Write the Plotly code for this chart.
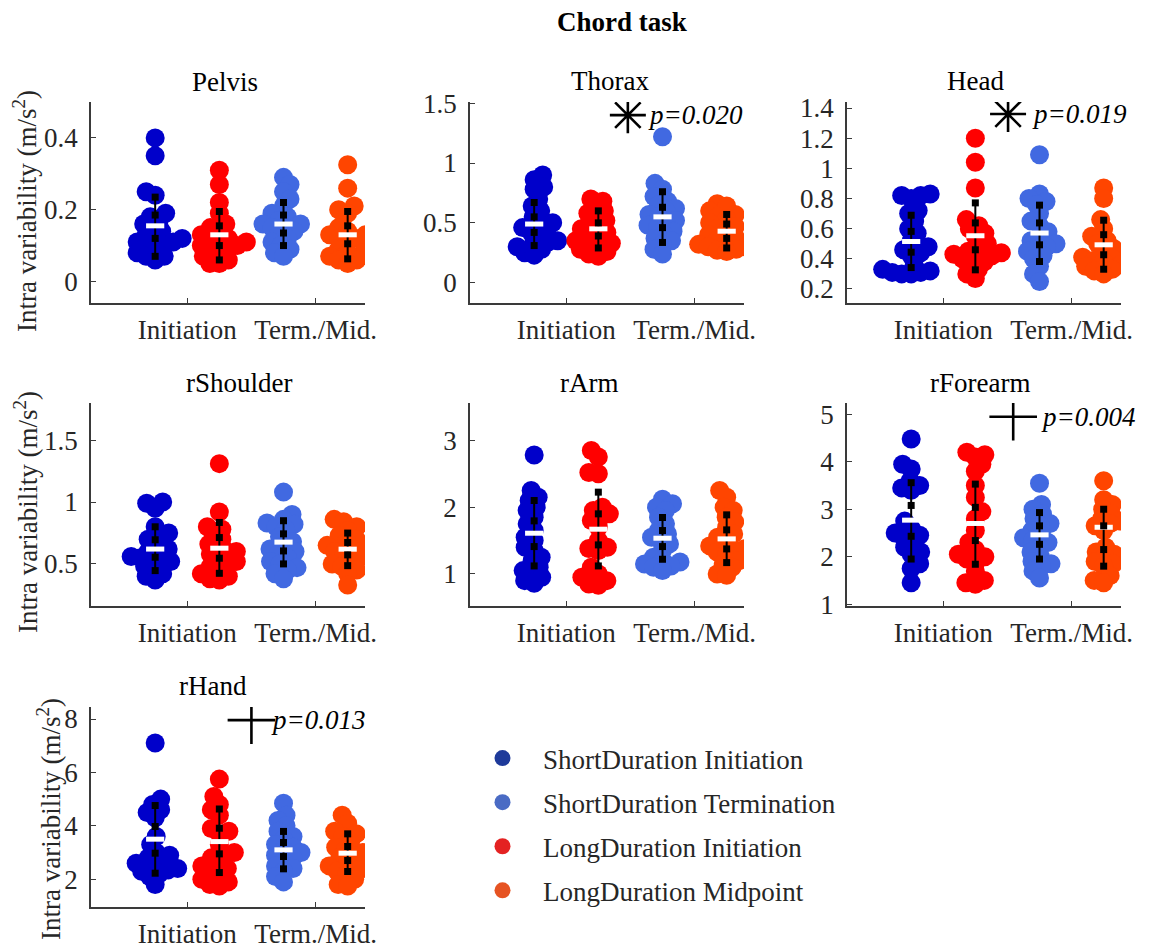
import numpy as np
import plotly.graph_objects as go

W, H = 1158, 948
FONT = "'Liberation Serif', 'Times New Roman', Times, serif"

# ---------------- data ----------------
panel_names = ["Pelvis", "Thorax", "Head", "rShoulder", "rArm", "rForearm", "rHand"]
group_names = ["ShortDuration Initiation", "LongDuration Initiation",
               "ShortDuration Termination", "LongDuration Midpoint"]
tick_labels = ["Initiation", "Term./Mid."]

# values per group: [ShortInit, LongInit, ShortTerm, LongMid]
pelvis = [
    [0.40, 0.35, 0.25, 0.24, 0.19, 0.18, 0.17, 0.16, 0.15, 0.14, 0.13, 0.12, 0.12, 0.11, 0.11, 0.10, 0.10, 0.09, 0.08, 0.07, 0.07, 0.06],
    [0.31, 0.27, 0.22, 0.19, 0.16, 0.15, 0.14, 0.13, 0.12, 0.12, 0.11, 0.11, 0.10, 0.10, 0.09, 0.09, 0.08, 0.07, 0.06, 0.05, 0.05],
    [0.29, 0.27, 0.25, 0.23, 0.21, 0.19, 0.18, 0.17, 0.16, 0.16, 0.15, 0.15, 0.14, 0.13, 0.12, 0.11, 0.10, 0.09, 0.08, 0.07],
    [0.325, 0.26, 0.21, 0.20, 0.19, 0.15, 0.14, 0.13, 0.13, 0.12, 0.12, 0.11, 0.09, 0.08, 0.08, 0.07, 0.06, 0.06, 0.05],
]
thorax = [
    [0.90, 0.86, 0.80, 0.78, 0.70, 0.64, 0.60, 0.55, 0.50, 0.48, 0.46, 0.44, 0.42, 0.38, 0.35, 0.34, 0.32, 0.30, 0.28, 0.25, 0.23],
    [0.70, 0.68, 0.63, 0.60, 0.58, 0.55, 0.52, 0.50, 0.47, 0.45, 0.42, 0.40, 0.38, 0.35, 0.33, 0.32, 0.30, 0.28, 0.26, 0.24, 0.22],
    [1.22, 0.83, 0.78, 0.72, 0.68, 0.65, 0.62, 0.60, 0.57, 0.55, 0.52, 0.50, 0.48, 0.46, 0.43, 0.40, 0.37, 0.35, 0.32, 0.28, 0.24],
    [0.66, 0.64, 0.60, 0.57, 0.55, 0.53, 0.50, 0.47, 0.45, 0.43, 0.40, 0.38, 0.36, 0.34, 0.32, 0.30, 0.30, 0.28, 0.27, 0.26],
]
head = [
    [0.83, 0.82, 0.82, 0.80, 0.72, 0.70, 0.65, 0.60, 0.57, 0.52, 0.48, 0.46, 0.44, 0.42, 0.36, 0.33, 0.32, 0.31, 0.31, 0.30, 0.30],
    [1.20, 1.04, 0.87, 0.66, 0.62, 0.60, 0.57, 0.55, 0.50, 0.47, 0.45, 0.44, 0.43, 0.42, 0.41, 0.40, 0.38, 0.36, 0.33, 0.30, 0.27],
    [1.09, 0.83, 0.80, 0.78, 0.76, 0.70, 0.65, 0.62, 0.58, 0.55, 0.52, 0.50, 0.48, 0.47, 0.45, 0.42, 0.40, 0.35, 0.30, 0.25],
    [0.87, 0.80, 0.66, 0.60, 0.55, 0.52, 0.50, 0.47, 0.45, 0.43, 0.42, 0.41, 0.40, 0.39, 0.38, 0.36, 0.35, 0.33, 0.32, 0.30],
]
rshoulder = [
    [1.00, 0.99, 0.95, 0.80, 0.75, 0.72, 0.70, 0.65, 0.62, 0.60, 0.58, 0.56, 0.55, 0.53, 0.52, 0.50, 0.48, 0.45, 0.42, 0.40, 0.37],
    [1.31, 0.92, 0.80, 0.78, 0.74, 0.70, 0.66, 0.63, 0.60, 0.60, 0.58, 0.55, 0.52, 0.50, 0.48, 0.45, 0.42, 0.40, 0.38, 0.37],
    [1.08, 0.90, 0.86, 0.83, 0.82, 0.80, 0.78, 0.72, 0.68, 0.65, 0.62, 0.60, 0.58, 0.55, 0.52, 0.50, 0.47, 0.45, 0.42, 0.38],
    [0.86, 0.84, 0.80, 0.77, 0.73, 0.70, 0.68, 0.65, 0.62, 0.60, 0.60, 0.58, 0.55, 0.52, 0.50, 0.48, 0.45, 0.42, 0.33],
]
rarm = [
    [2.78, 2.25, 2.15, 2.10, 2.00, 1.95, 1.85, 1.75, 1.65, 1.55, 1.50, 1.40, 1.35, 1.25, 1.20, 1.10, 1.05, 1.00, 0.95, 0.90, 0.86],
    [2.85, 2.75, 2.52, 2.50, 2.00, 1.95, 1.90, 1.85, 1.80, 1.70, 1.50, 1.40, 1.38, 1.35, 1.10, 1.00, 0.95, 0.90, 0.85, 0.83],
    [2.12, 2.05, 2.00, 1.95, 1.85, 1.75, 1.65, 1.60, 1.55, 1.50, 1.45, 1.35, 1.25, 1.20, 1.18, 1.15, 1.12, 1.10, 1.05],
    [2.25, 2.15, 2.00, 1.95, 1.85, 1.78, 1.70, 1.60, 1.55, 1.50, 1.42, 1.38, 1.35, 1.33, 1.30, 1.20, 1.15, 1.10, 1.00, 0.98],
]
rforearm = [
    [4.48, 3.95, 3.85, 3.60, 3.50, 3.45, 3.40, 2.75, 2.60, 2.50, 2.45, 2.40, 2.30, 2.20, 2.10, 2.05, 1.85, 1.75, 1.45],
    [4.20, 4.15, 4.10, 3.95, 3.80, 3.50, 3.25, 2.95, 2.80, 2.55, 2.30, 2.15, 2.05, 2.00, 1.95, 1.90, 1.70, 1.50, 1.45, 1.42],
    [3.55, 3.10, 3.00, 2.90, 2.80, 2.70, 2.65, 2.55, 2.45, 2.40, 2.35, 2.30, 2.20, 2.10, 2.00, 1.90, 1.85, 1.80, 1.70, 1.55],
    [3.60, 3.20, 3.10, 3.00, 2.90, 2.80, 2.75, 2.70, 2.65, 2.55, 2.20, 2.10, 2.05, 2.00, 1.90, 1.85, 1.80, 1.60, 1.50, 1.45],
]
rhand = [
    [7.10, 5.00, 4.80, 4.60, 4.50, 4.30, 3.60, 3.30, 3.00, 2.90, 2.80, 2.70, 2.60, 2.50, 2.40, 2.35, 2.30, 2.20, 2.10, 1.80],
    [5.75, 5.10, 4.80, 4.60, 4.40, 3.90, 3.80, 3.70, 3.30, 3.00, 2.90, 2.80, 2.60, 2.50, 2.40, 2.30, 2.20, 2.00, 1.90, 1.80, 1.75],
    [4.85, 4.40, 4.20, 4.00, 3.80, 3.60, 3.50, 3.30, 3.20, 3.10, 3.00, 2.90, 2.80, 2.70, 2.50, 2.40, 2.30, 2.10, 1.90],
    [4.40, 4.10, 3.80, 3.70, 3.60, 3.40, 3.20, 3.10, 3.00, 2.90, 2.80, 2.60, 2.50, 2.40, 2.35, 2.30, 2.20, 2.00, 1.80, 1.75],
]
all_values = [pelvis, thorax, head, rshoulder, rarm, rforearm, rhand]

# summary bars per group: (low, inner low, inner high, high, centre)
pelvis_bars = [(0.07, 0.12, 0.185, 0.235, 0.155), (0.06, 0.10, 0.155, 0.195, 0.13),
               (0.10, 0.135, 0.185, 0.22, 0.16), (0.063, 0.105, 0.155, 0.195, 0.13)]
thorax_bars = [(0.31, 0.42, 0.55, 0.67, 0.49), (0.29, 0.39, 0.50, 0.60, 0.45),
               (0.336, 0.46, 0.63, 0.76, 0.55), (0.29, 0.37, 0.49, 0.57, 0.43)]
head_bars = [(0.342, 0.444, 0.582, 0.689, 0.515), (0.327, 0.46, 0.638, 0.771, 0.553),
             (0.382, 0.493, 0.638, 0.756, 0.571), (0.331, 0.427, 0.56, 0.656, 0.493)]
rshoulder_bars = [(0.446, 0.554, 0.695, 0.80, 0.62), (0.424, 0.546, 0.713, 0.835, 0.627),
                  (0.50, 0.605, 0.743, 0.849, 0.676), (0.486, 0.573, 0.673, 0.749, 0.619)]
rarm_bars = [(1.12, 1.41, 1.795, 2.10, 1.61), (1.12, 1.435, 1.90, 2.225, 1.67),
             (1.22, 1.41, 1.65, 1.845, 1.535), (1.17, 1.375, 1.66, 1.885, 1.525)]
rforearm_bars = [(1.95, 2.43, 3.08, 3.56, 2.77), (1.84, 2.34, 3.04, 3.53, 2.70),
                 (1.95, 2.26, 2.65, 2.93, 2.46), (1.80, 2.15, 2.65, 3.00, 2.62)]
rhand_bars = [(2.225, 2.975, 3.975, 4.76, 3.50), (2.25, 2.95, 3.91, 4.63, 3.41),
              (2.39, 2.85, 3.375, 3.79, 3.10), (2.29, 2.70, 3.225, 3.70, 2.975)]
all_bars = [pelvis_bars, thorax_bars, head_bars, rshoulder_bars, rarm_bars, rforearm_bars, rhand_bars]

y_ticks = [[0, 0.2, 0.4], [0, 0.5, 1, 1.5], [0.2, 0.4, 0.6, 0.8, 1.0, 1.2, 1.4],
           [0.5, 1, 1.5], [1, 2, 3], [1, 2, 3, 4, 5], [2, 4, 6, 8]]
y_tick_text = [["0", "0.2", "0.4"], ["0", "0.5", "1", "1.5"],
               ["0.2", "0.4", "0.6", "0.8", "1", "1.2", "1.4"],
               ["0.5", "1", "1.5"], ["1", "2", "3"], ["1", "2", "3", "4", "5"], ["2", "4", "6", "8"]]

# significance: panel index, symbol kind, p text
sig_panels = [1, 2, 5, 6]
sig_kind = ["asterisk", "asterisk", "plus", "plus"]
sig_text = ["p=0.020", "p=0.019", "p=0.004", "p=0.013"]

# ---------------- styling / layout ----------------
group_colors = ["#0000CA", "#FF0000", "#4169E1", "#FF4500"]
legend_order = [0, 2, 1, 3]
legend_colors = ["#1E3A9A", "#4A6BC4", "#E42222", "#E65322"]

y_ranges = [[-0.06, 0.5], [-0.17, 1.51], [0.107, 1.44], [0.16, 1.8],
            [0.52, 3.56], [0.96, 5.24], [0.96, 8.45]]
x_range = [0, 4.27]
col_left = [91, 470, 847]
ax_w = 274
row_top = [102, 403, 707]
row_bot = [303, 606, 907]
title_pos = [(225, 82), (610, 81), (975, 81), (239, 383), (589, 383), (980, 383), (213, 686)]
ylabel_pos = [(25, 211), (26, 512), (49, 819)]
sig_pos = [(2.46, 1.40, 2.75), (2.51, 1.36, 2.85), (2.59, 4.95, 2.99), (2.50, 7.96, 2.78)]

DOT = 19
AXC = "#3a3a3a"
TXT = "#262626"
FS = 27


def swarm_offsets(vals, ppu_y, ppu_x, dmin=9.5):
    vals = np.asarray(vals, float)
    ys = vals * ppu_y
    order = np.argsort(vals)
    placed = []
    offs = np.zeros(len(vals))
    for k, i in enumerate(order):
        y = ys[i]
        chosen = None
        step = 0
        while chosen is None:
            if step == 0:
                cands = [0.0]
            else:
                s = step * 0.5
                cands = [s, -s] if k % 2 == 0 else [-s, s]
            for c in cands:
                ok = True
                for (px, py) in placed:
                    if (c - px) ** 2 + (y - py) ** 2 < dmin ** 2:
                        ok = False
                        break
                if ok:
                    chosen = c
                    break
            step += 1
        placed.append((chosen, y))
        offs[i] = chosen / ppu_x
    return offs


fig = go.Figure()
layout = dict(
    width=W, height=H, margin=dict(l=0, r=0, t=0, b=0, pad=0, autoexpand=False),
    paper_bgcolor="white", plot_bgcolor="white",
    font=dict(family=FONT, size=FS, color=TXT),
    showlegend=True,
)
annotations = []

for p in range(7):
    r, c = divmod(p, 3)
    left = col_left[c]
    top, bot = row_top[r], row_bot[r]
    sfx = "" if p == 0 else str(p + 1)
    xa, ya = "x" + sfx, "y" + sfx
    ppu_x = ax_w / (x_range[1] - x_range[0])
    ppu_y = (bot - top) / (y_ranges[p][1] - y_ranges[p][0])

    layout["xaxis" + sfx] = dict(
        domain=[left / W, (left + ax_w) / W], anchor=ya, range=x_range,
        tickvals=[1.5, 3.5], ticktext=tick_labels, ticks="inside", ticklen=5,
        tickcolor=AXC, showline=True, linecolor=AXC, linewidth=1.5,
        showgrid=False, zeroline=False, ticklabelstandoff=2, automargin=False,
        tickfont=dict(family=FONT, size=FS, color=TXT), fixedrange=True,
    )
    layout["yaxis" + sfx] = dict(
        domain=[1 - bot / H, 1 - top / H], anchor=xa, range=y_ranges[p],
        tickvals=y_ticks[p], ticktext=y_tick_text[p], ticks="inside", ticklen=5,
        tickcolor=AXC, showline=True, linecolor=AXC, linewidth=1.5,
        showgrid=False, zeroline=False, ticklabelstandoff=6, automargin=False,
        tickfont=dict(family=FONT, size=FS, color=TXT), fixedrange=True,
    )

    # swarm dots
    for g in range(4):
        vals = all_values[p][g]
        offs = swarm_offsets(vals, ppu_y, ppu_x)
        fig.add_trace(go.Scatter(
            x=(g + 1) + offs, y=vals, xaxis=xa, yaxis=ya, mode="markers",
            marker=dict(size=DOT, color=group_colors[g], line=dict(width=0)),
            showlegend=False, hoverinfo="skip", name=group_names[g],
        ))

    bars = all_bars[p]
    lx, ly = [], []
    for g, b in enumerate(bars):
        lx += [g + 1, g + 1, None]
        ly += [b[0], b[3], None]
    fig.add_trace(go.Scatter(x=lx, y=ly, xaxis=xa, yaxis=ya, mode="lines",
                             line=dict(color="black", width=2), showlegend=False,
                             hoverinfo="skip"))
    fig.add_trace(go.Scatter(
        x=[g + 1 for g in range(4)], y=[b[4] for b in bars], xaxis=xa, yaxis=ya,
        mode="markers", marker=dict(symbol="line-ew", size=13, color="white",
                                    line=dict(width=5, color="white")),
        showlegend=False, hoverinfo="skip"))
    sx, sy = [], []
    for g, b in enumerate(bars):
        sx += [g + 1] * 4
        sy += [b[0], b[1], b[2], b[3]]
    fig.add_trace(go.Scatter(x=sx, y=sy, xaxis=xa, yaxis=ya, mode="markers",
                             marker=dict(symbol="square", size=7, color="black"),
                             showlegend=False, hoverinfo="skip"))

    annotations.append(dict(
        x=title_pos[p][0] / W, y=1 - title_pos[p][1] / H, xref="paper", yref="paper",
        text=panel_names[p], showarrow=False, xanchor="center", yanchor="middle",
        font=dict(family=FONT, size=FS, color="black")))

# significance markers
for k, p in enumerate(sig_panels):
    sfx = "" if p == 0 else str(p + 1)
    mx, my, tx = sig_pos[k]
    sym = "asterisk-open" if sig_kind[k] == "asterisk" else "cross-thin-open"
    fig.add_trace(go.Scatter(x=[mx], y=[my], xaxis="x" + sfx, yaxis="y" + sfx, mode="markers",
                             marker=dict(symbol=sym, size=30 if sym == "asterisk-open" else 34,
                                         color="black", line=dict(width=2.6, color="black")),
                             showlegend=False, hoverinfo="skip"))
    annotations.append(dict(x=tx, y=my, xref="x" + sfx, yref="y" + sfx,
                            text="<i>" + sig_text[k] + "</i>", showarrow=False,
                            xanchor="left", yanchor="middle",
                            font=dict(family=FONT, size=FS, color="black")))

# y labels
for (lx_, ly_) in ylabel_pos:
    annotations.append(dict(x=lx_ / W, y=1 - ly_ / H, xref="paper", yref="paper",
                            text="Intra variability (m/s<sup>2</sup>)", textangle=-90,
                            showarrow=False, xanchor="center", yanchor="middle",
                            font=dict(family=FONT, size=FS, color=TXT)))

# main title
annotations.append(dict(x=622 / W, y=1 - 22 / H, xref="paper", yref="paper",
                        text="<b>Chord task</b>", showarrow=False, xanchor="center",
                        yanchor="middle", font=dict(family=FONT, size=FS, color="black")))

# legend entries
for k, g in enumerate(legend_order):
    fig.add_trace(go.Scatter(x=[None], y=[None], mode="markers", name=group_names[g],
                             marker=dict(size=DOT, color=legend_colors[k]),
                             legendgroup="g%d" % k, showlegend=True))

layout["annotations"] = annotations
layout["legend"] = dict(x=462 / W, y=1 - 734 / H, xanchor="left", yanchor="top",
                        font=dict(family=FONT, size=FS, color=TXT), tracegroupgap=6,
                        bgcolor="rgba(0,0,0,0)", itemwidth=71)
fig.update_layout(**layout)
fig.write_html("out.html")
